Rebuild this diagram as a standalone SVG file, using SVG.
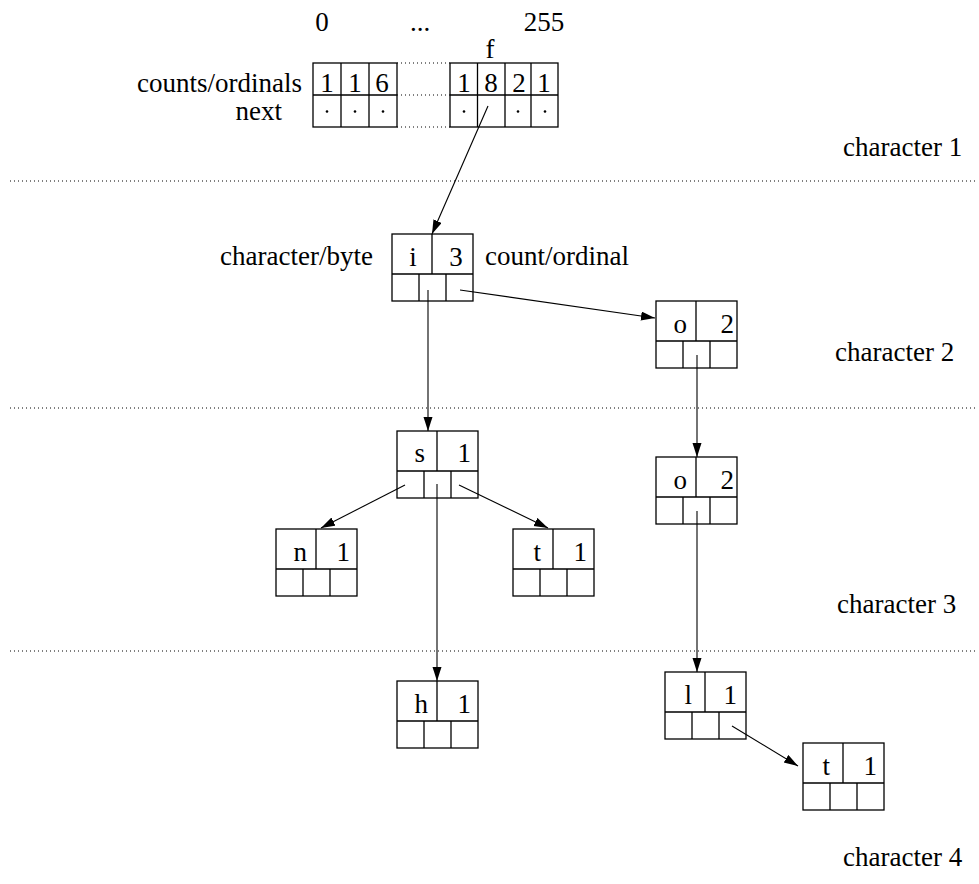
<svg xmlns="http://www.w3.org/2000/svg" xmlns:xlink="http://www.w3.org/1999/xlink" width="979" height="884" viewBox="0 0 979 884">
<style>
text{font-family:"Liberation Serif","DejaVu Serif","Times New Roman",serif;font-size:27px;fill:#000}
.box{fill:none;stroke:#000;stroke-width:1.3}
.sep{stroke:#000;stroke-width:1;stroke-dasharray:1 3;fill:none}
.conn{stroke:#000;stroke-width:1.1;fill:none;marker-end:url(#ah)}
.dot{fill:#000}
.c{text-anchor:middle}
.e{text-anchor:end}
</style>
<defs>
<marker id="ah" markerUnits="userSpaceOnUse" markerWidth="15" markerHeight="10" refX="14" refY="4.5" orient="auto"><path d="M0,0 L14,4.5 L0,9 z" fill="#000"/></marker>
<g id="node"><rect class="box" x="0" y="0" width="81" height="67"/><path class="box" d="M0,40 H81 M40,0 V40 M27,40 V67 M54,40 V67"/></g>
</defs>
<rect width="979" height="884" fill="#fff"/>
<g id="separators">
<line class="sep" x1="10" y1="181" x2="975" y2="181"/>
<line class="sep" x1="10" y1="408" x2="975" y2="408"/>
<line class="sep" x1="10" y1="651" x2="975" y2="651"/>
</g>
<g id="levels">
<text x="843" y="156">character 1</text>
<text x="835" y="361">character 2</text>
<text x="837" y="613">character 3</text>
<text x="843" y="866">character 4</text>
</g>
<g id="array">
<text class="c" x="322" y="31">0</text>
<text class="c" x="420" y="31">...</text>
<text class="c" x="544" y="31">255</text>
<text class="c" x="490" y="58">f</text>
<text class="e" x="302" y="92">counts/ordinals</text>
<text class="e" x="282" y="120">next</text>
<rect class="box" x="313" y="63" width="84" height="64"/>
<path class="box" d="M313,95 H397 M341,63 V127 M369,63 V127"/>
<rect class="box" x="450" y="63" width="108" height="64"/>
<path class="box" d="M450,95 H558 M477.5,63 V127 M505,63 V127 M531,63 V127"/>
<line class="sep" x1="397" y1="63" x2="450" y2="63"/>
<line class="sep" x1="397" y1="95" x2="450" y2="95"/>
<line class="sep" x1="397" y1="127" x2="450" y2="127"/>
<text class="c" x="327" y="92">1</text>
<text class="c" x="355" y="92">1</text>
<text class="c" x="382" y="92">6</text>
<text class="c" x="464" y="92">1</text>
<text class="c" x="491" y="92">8</text>
<text class="c" x="519" y="92">2</text>
<text class="c" x="544" y="92">1</text>
<circle class="dot" cx="327" cy="111.5" r="1.3"/>
<circle class="dot" cx="355" cy="111.5" r="1.3"/>
<circle class="dot" cx="383" cy="111.5" r="1.3"/>
<circle class="dot" cx="464" cy="111.5" r="1.3"/>
<circle class="dot" cx="518" cy="111.5" r="1.3"/>
<circle class="dot" cx="545" cy="111.5" r="1.3"/>
</g>
<g id="node-i3">
<use xlink:href="#node" x="392" y="234"/>
<text class="c" x="413" y="266">i</text>
<text class="c" x="456" y="266">3</text>
<text class="e" x="373" y="265">character/byte</text>
<text x="485" y="265">count/ordinal</text>
</g>
<g id="node-o2a">
<use xlink:href="#node" x="656" y="301"/>
<text class="e" x="687" y="333">o</text>
<text class="e" x="734" y="333">2</text>
</g>
<g id="node-s1">
<use xlink:href="#node" x="397" y="431"/>
<text class="e" x="425" y="462">s</text>
<text class="e" x="471" y="462">1</text>
</g>
<g id="node-o2b">
<use xlink:href="#node" x="656" y="457"/>
<text class="e" x="687" y="489">o</text>
<text class="e" x="734" y="489">2</text>
</g>
<g id="node-n1">
<use xlink:href="#node" x="276" y="529"/>
<text class="e" x="307" y="561">n</text>
<text class="e" x="350" y="561">1</text>
</g>
<g id="node-t1a">
<use xlink:href="#node" x="513" y="529"/>
<text class="e" x="541" y="561">t</text>
<text class="e" x="587" y="561">1</text>
</g>
<g id="node-h1">
<use xlink:href="#node" x="397" y="681"/>
<text class="e" x="428" y="713">h</text>
<text class="e" x="471" y="713">1</text>
</g>
<g id="node-l1">
<use xlink:href="#node" x="665" y="672"/>
<text class="e" x="692" y="704">l</text>
<text class="e" x="737" y="704">1</text>
</g>
<g id="node-t1b">
<use xlink:href="#node" x="803" y="743"/>
<text class="e" x="830" y="775">t</text>
<text class="e" x="877" y="775">1</text>
</g>
<g id="connectors">
<line class="conn" x1="488" y1="106" x2="432" y2="234"/>
<line class="conn" x1="428" y1="290" x2="428" y2="431"/>
<line class="conn" x1="460" y1="290" x2="655" y2="318"/>
<line class="conn" x1="697" y1="355" x2="697" y2="457"/>
<line class="conn" x1="697" y1="511" x2="697" y2="672"/>
<line class="conn" x1="437" y1="484" x2="437" y2="681"/>
<line class="conn" x1="405" y1="485" x2="321" y2="528"/>
<line class="conn" x1="459" y1="485" x2="548" y2="528"/>
<line class="conn" x1="732" y1="726" x2="798" y2="766"/>
</g>
</svg>
